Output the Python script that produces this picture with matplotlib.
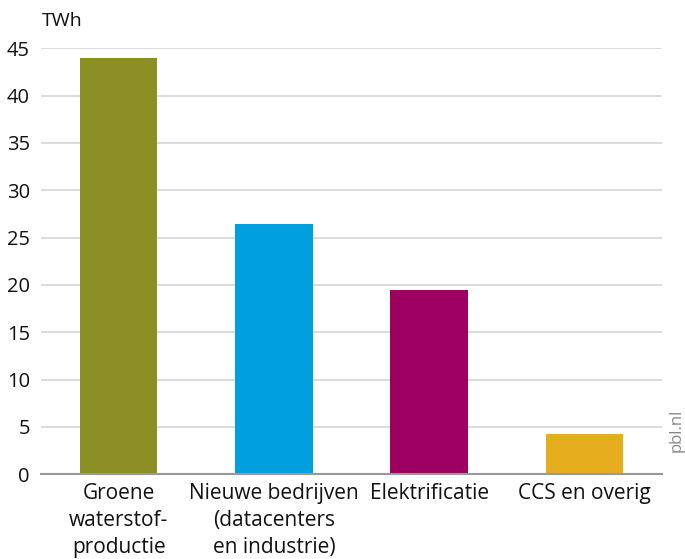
import matplotlib.pyplot as plt

# Elektriciteitsvraag per toepassing (TWh)
categories = ["Groene\nwaterstof-\nproductie", "Nieuwe bedrijven\n(datacenters\nen industrie)",
              "Elektrificatie", "CCS en overig"]
values = [44.0, 26.4, 19.5, 4.3]
colors = ["#8c9024", "#009fe0", "#9e0062", "#e6ad1f"]
yticks = [0, 5, 10, 15, 20, 25, 30, 35, 40, 45]

plt.rcParams['font.family'] = ['Open Sans', 'DejaVu Sans']

fig = plt.figure(figsize=(6.85, 5.59), dpi=100)
ax = fig.add_axes([0.0599, 0.1515, 0.9065, 0.7621])

x = range(len(categories))
ax.bar(x, values, width=0.5, color=colors, zorder=3)

ax.set_xlim(-0.5, 3.5)
ax.set_ylim(0, 45)
ax.set_yticks(yticks)
ax.set_yticklabels([str(t) for t in yticks], fontsize=14.5)
ax.set_xticks(list(x))
ax.set_xticklabels(categories, fontsize=15, linespacing=1.38, va='top')

ax.grid(axis='y', color='#d9d9d9', linewidth=1.3, zorder=0)
ax.tick_params(axis='both', length=0, colors='#111111')
ax.tick_params(axis='y', pad=8)
ax.tick_params(axis='x', pad=6)
for side in ['top', 'right', 'left']:
    ax.spines[side].set_visible(False)
ax.spines['bottom'].set_color('#999999')
ax.spines['bottom'].set_linewidth(1.5)
ax.spines['bottom'].set_zorder(4)

fig.text(0.061, 0.962, "TWh", fontsize=14, ha='left', va='center', color='#111111')
fig.text(0.988, 0.230, "pbl.nl", fontsize=12, rotation=90, ha='center', va='center',
         color='#888888')

fig.savefig("out.png", dpi=100)
